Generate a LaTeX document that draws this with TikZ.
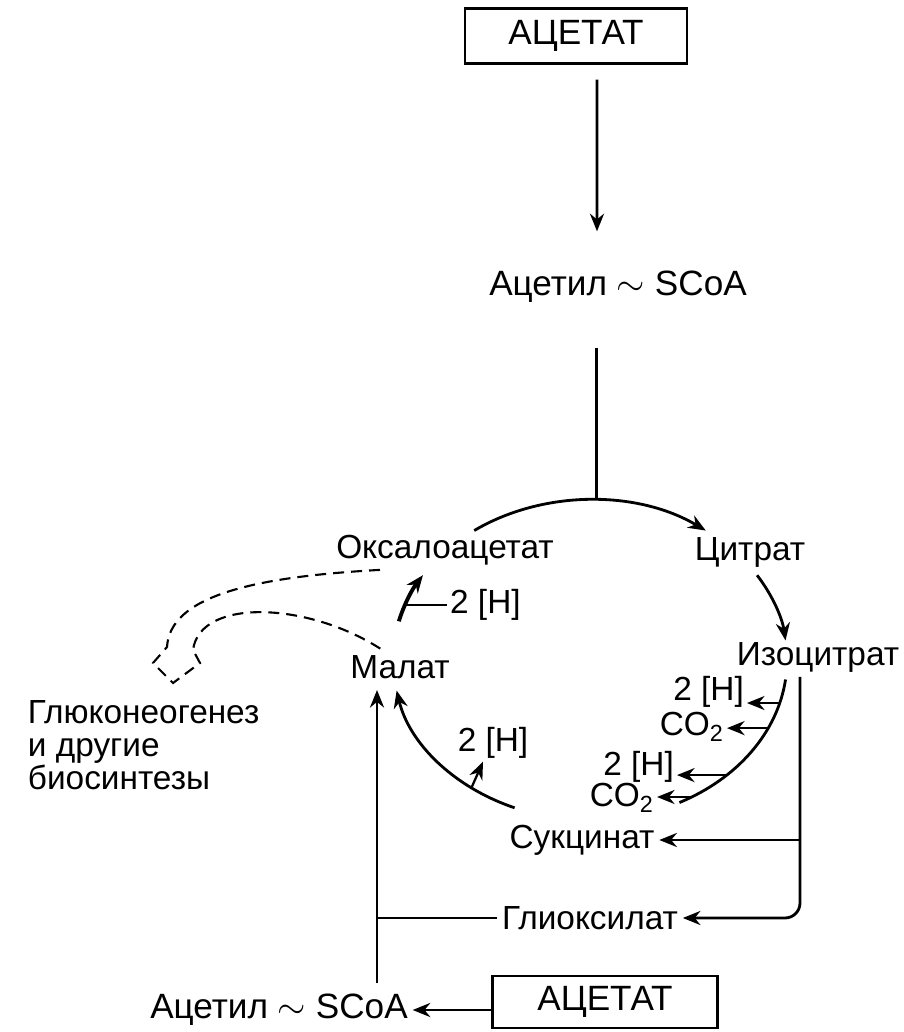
\documentclass[tikz,border=0pt]{standalone}
\usepackage{fontspec}
\setmainfont{Liberation Sans}
\usetikzlibrary{arrows.meta}
\begin{document}
\begin{tikzpicture}[>={Stealth[length=10pt,width=8pt]}, line width=1.6pt,
    box/.style={draw, line width=1.3pt, minimum width=4.44cm, minimum height=1.1cm, font=\fontsize{20}{22}\selectfont},
    lbl/.style={font=\fontsize{19}{21}\selectfont, inner sep=2pt},
    rel/.style={font=\fontsize{19}{21}\selectfont, inner sep=1pt},
    dashflow/.style={dash pattern=on 0.22cm off 0.14cm, line width=1.2pt}]
    \useasboundingbox (0,0) rectangle (18.06,20.64);

    % вход ацетата
    \node[box] (acet1) at (11.52, 19.92) {АЦЕТАТ};
    \node[lbl, font=\fontsize{20}{22}\selectfont] (acoa1) at (12.36, 14.9) {Ацетил $\sim$ SCoA};
    \draw[->, shorten <=0.3cm, shorten >=0.7cm] ([xshift=0.42cm]acet1.south) -- ([xshift=-0.42cm]acoa1.north);

    % метаболиты цикла
    \node[lbl] (oxa) at (8.9, 9.64) {Оксалоацетат};
    \node[lbl] (cit) at (15.0, 9.6) {Цитрат};
    \node[lbl] (isoc) at (16.36, 7.5) {Изоцитрат};
    \node[lbl] (mal) at (8.0, 7.3) {Малат};
    \node[lbl] (suc) at (11.64, 3.84) {Сукцинат};
    \node[lbl] (glx) at (11.8, 2.28) {Глиоксилат};

    % отщепляемые продукты
    \node[rel, anchor=west] (h1) at (8.94, 8.54) {2 [H]};
    \node[rel, anchor=east] (h2) at (14.94, 6.8) {2 [H]};
    \node[rel, anchor=east] (co1) at (14.54, 6.1) {CO\textsubscript{2}};
    \node[rel, anchor=east] (h3) at (13.54, 5.3) {2 [H]};
    \node[rel, anchor=east] (co2) at (13.14, 4.68) {CO\textsubscript{2}};
    \node[rel] (h4) at (9.86, 5.78) {2 [H]};

    % точки на окружности
    \coordinate (c) at (11.8, 7.44);
    \path (c) ++(88:3.94 and 3.2) coordinate (top);
    \path (c) ++(-15.6:3.94 and 3.2) coordinate (r1);
    \path (c) ++(-25.2:3.94 and 3.2) coordinate (r2);
    \path (c) ++(-46:3.94 and 3.2) coordinate (r3);
    \path (c) ++(-58.9:3.94 and 3.2) coordinate (r4);
    \path (c) ++(233:3.94 and 3.2) coordinate (r5);
    \path (c) ++(159.9:3.94 and 3.2) coordinate (r6);

    % цикл
    \draw[shorten <=0.8cm] (acoa1.south -| top) -- (top);
    \draw[->] (c) ++(126:3.94 and 3.2) arc[start angle=126, end angle=54, x radius=3.94, y radius=3.2];
    \draw[->] (c) ++(32:3.94 and 3.2) arc[start angle=32, end angle=7, x radius=3.94, y radius=3.2];
    \draw (c) ++(-7:3.94 and 3.2) arc[start angle=-7, end angle=-63, x radius=3.94, y radius=3.2];
    \draw[->] (c) ++(247.5:3.94 and 3.2) arc[start angle=247.5, end angle=191, x radius=3.94, y radius=3.2];
    \draw[->, line width=2.2pt] (c) ++(166:3.94 and 3.2) arc[start angle=166, end angle=148, x radius=3.94, y radius=3.2];

    % выход 2[H] и CO2
    \draw (r6) -- (r6 -| h1.west);
    \draw[->, line width=1.3pt] (r1) -- (r1 -| h2.east);
    \draw[->, line width=1.3pt] (r2) -- (r2 -| co1.east);
    \draw[->, line width=1.3pt] (r3) -- (r3 -| h3.east);
    \draw[->, line width=1.3pt] (r4) -- (r4 -| co2.east);
    \draw[->, line width=1.3pt] (r5) -- ([xshift=-0.2cm]h4.south);

    % глиоксилатный шунт
    \coordinate (rv) at ([xshift=-0.36cm]isoc.south);
    \draw[->, rounded corners=0.3cm] (rv) |- (glx.east);
    \draw[->] (rv |- suc.east) -- (suc.east);

    % второй ацетат
    \node[box, minimum width=4.5cm, minimum height=1.04cm] (acet2) at (12.1, 0.6) {АЦЕТАТ};
    \node[lbl, font=\fontsize{20}{22}\selectfont] (acoa2) at (5.58, 0.44) {Ацетил $\sim$ SCoA};
    \draw[->] (acet2.west |- acoa2.east) -- (acoa2.east);
    \coordinate (malin) at (7.54, 6.84);
    \draw[->, shorten <=0.12cm] (malin |- acoa2.north) -- (malin);
    \draw (glx.west) -- (glx.west -| malin);

    % отток на биосинтезы
    \node[lbl, anchor=west, align=left, font=\fontsize{19}{18.7}\selectfont] (gng) at (0.46, 5.74) {Глюконеогенез\\и другие\\биосинтезы};
    \draw[dashflow] ([xshift=-1.3cm]oxa.south) .. controls (5.0, 9.1) and (3.4, 8.7) .. (3.34, 7.7)
        -- (3.06, 7.38) -- (3.46, 6.98) -- (4.0, 7.38) -- (3.86, 7.64)
        .. controls (4.0, 8.7) and (6.2, 8.6) .. ([xshift=-0.34cm]mal.north);
\end{tikzpicture}
\end{document}
